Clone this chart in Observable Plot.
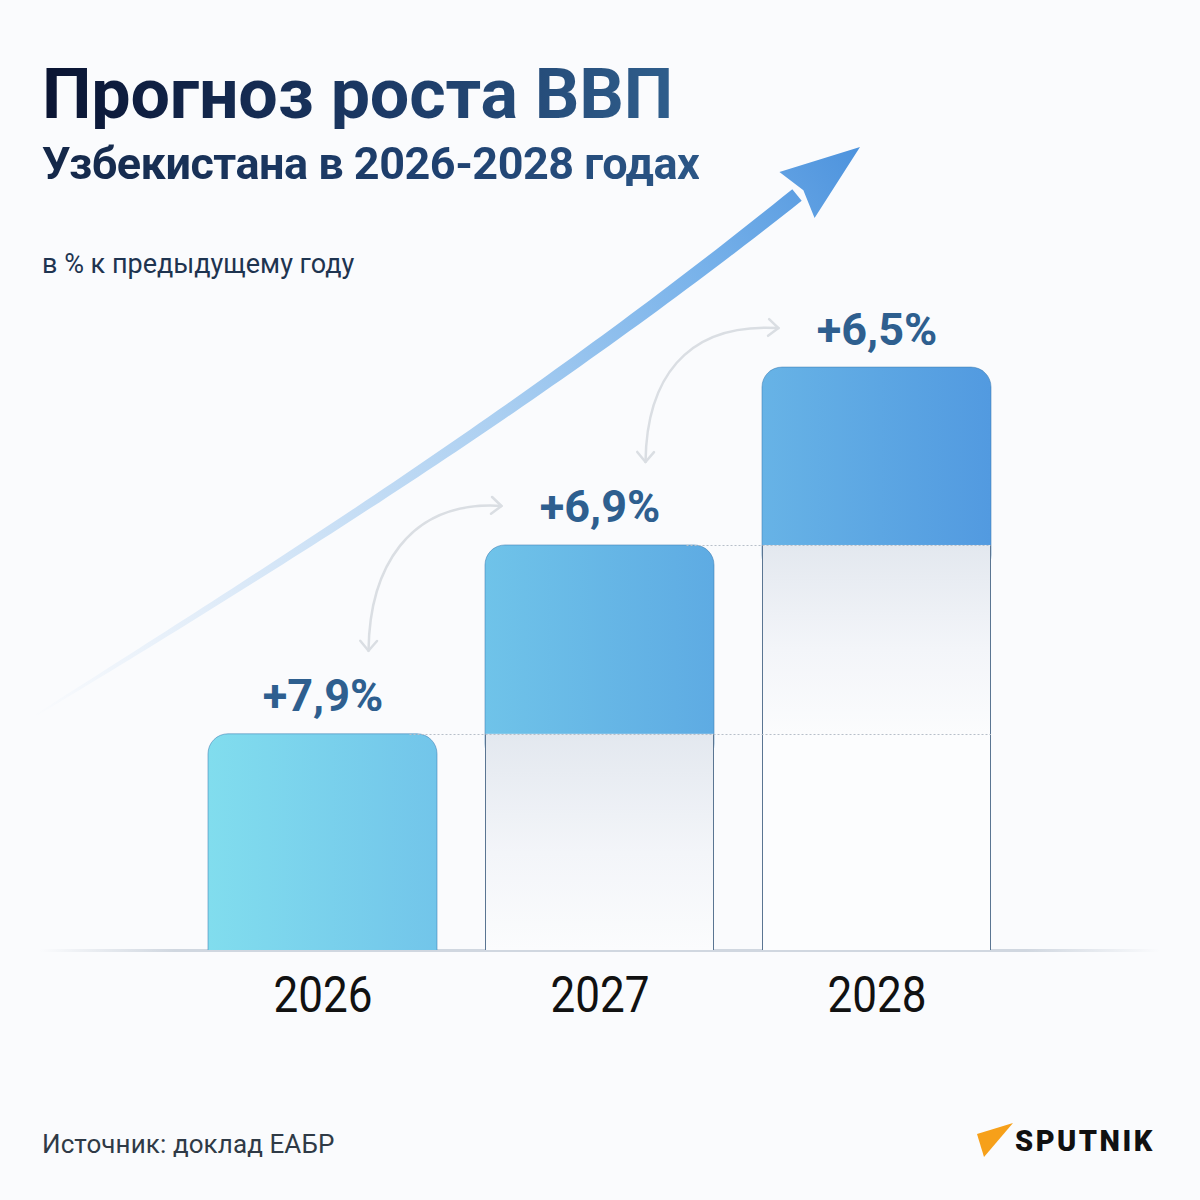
<!DOCTYPE html>
<html>
<head>
<meta charset="utf-8">
<script src="https://cdn.jsdelivr.net/npm/d3@7"></script>
<script src="https://cdn.jsdelivr.net/npm/@observablehq/plot@0.6"></script>
<style>
html, body { margin: 0; padding: 0; background: #fafbfd; }
#wrap { position: relative; width: 1200px; height: 1200px; background: #fafbfd; overflow: hidden; font-family: Roboto, "Noto Sans", sans-serif; }
#chart { position: absolute; left: 0; top: 0; }
.t { position: absolute; left: 42px; line-height: 1; white-space: nowrap; }
#title { top: 59px; font-size: 70px; font-weight: 700; letter-spacing: -0.2px;
  background: linear-gradient(90deg, #0a1432 0%, #1c3a66 55%, #2f5e8c 100%);
  -webkit-background-clip: text; background-clip: text; color: transparent; }
#subtitle { top: 141px; font-size: 45px; font-weight: 700; letter-spacing: -0.5px;
  background: linear-gradient(90deg, #142748 0%, #1f4170 60%, #2b5686 100%);
  -webkit-background-clip: text; background-clip: text; color: transparent; }
#unit { top: 251px; font-size: 27px; color: #1e3450; }
#source { top: 1131px; font-size: 26px; color: #2f3a46; letter-spacing: 0.1px; }
#logo { position: absolute; left: 970px; top: 1115px; }
#brand { position: absolute; left: 1015px; top: 1127px; font-size: 29px; font-weight: 900; letter-spacing: 2.5px; color: #111; line-height: 1; }
</style>
</head>
<body>
<div id="wrap">
  <div id="chart"></div>
  <div class="t" id="title">Прогноз роста ВВП</div>
  <div class="t" id="subtitle">Узбекистана в 2026-2028 годах</div>
  <div class="t" id="unit">в % к предыдущему году</div>
  <div class="t" id="source">Источник: доклад ЕАБР</div>
  <svg id="logo" width="50" height="50" viewBox="0 0 50 50"><polygon points="7,19 43,8 14,42" fill="#f6a01a"/></svg>
  <div id="brand">SPUTNIK</div>
</div>
<script>
// ---- data ----
const years = ["2026", "2027", "2028"];
const growth = [7.9, 6.9, 6.5];          // % к предыдущему году
const cumulative = Array.from(d3.cumsum(growth));
const fmt = v => "+" + v.toFixed(1).replace(".", ",") + "%";

// colours
const blueStops = {
  "2026": ["#81ddee", "#72c5ea"],
  "2027": ["#6fc3e9", "#5eabe3"],
  "2028": ["#67b3e6", "#529ae0"]
};

// segments: each year's bar is built from all previous years' increments
const segments = [];
years.forEach((year, j) => {
  for (let i = 0; i <= j; i++) {
    segments.push({
      year,
      lo: i ? cumulative[i - 1] : 0,
      hi: cumulative[i],
      kind: i === j ? "blue" : i === j - 1 ? "ghost" : "blank"
    });
  }
});

const bw = s => (typeof s.bandwidth === "function" ? s.bandwidth() : s.bandwidth);

// gradient definitions
function defsMark() {
  const defs = d3.create("svg:defs");
  for (const y of years) {
    const g = defs.append("linearGradient").attr("id", "blue-" + y).attr("x1", 0).attr("x2", 1).attr("y1", 0).attr("y2", 0);
    g.append("stop").attr("offset", 0).attr("stop-color", blueStops[y][0]);
    g.append("stop").attr("offset", 1).attr("stop-color", blueStops[y][1]);
  }
  const gh = defs.append("linearGradient").attr("id", "ghost").attr("x1", 0).attr("x2", 0).attr("y1", 0).attr("y2", 1);
  gh.append("stop").attr("offset", 0).attr("stop-color", "#e3e8ef");
  gh.append("stop").attr("offset", 0.55).attr("stop-color", "#f3f5f9");
  gh.append("stop").attr("offset", 1).attr("stop-color", "#fbfcfd");
  const bl = defs.append("linearGradient").attr("id", "baseline").attr("x1", 0).attr("x2", 1).attr("y1", 0).attr("y2", 0);
  bl.append("stop").attr("offset", 0).attr("stop-color", "#d0d7e0").attr("stop-opacity", 0);
  bl.append("stop").attr("offset", 0.12).attr("stop-color", "#d0d7e0");
  bl.append("stop").attr("offset", 0.88).attr("stop-color", "#d0d7e0");
  bl.append("stop").attr("offset", 1).attr("stop-color", "#d0d7e0").attr("stop-opacity", 0);
  const sw = defs.append("linearGradient").attr("id", "swoosh").attr("gradientUnits", "userSpaceOnUse")
    .attr("x1", 33).attr("y1", 717).attr("x2", 860).attr("y2", 147);
  [[0, "#fafbfd"], [0.2, "#e2edf9"], [0.55, "#abcff1"], [0.8, "#78b2ea"], [1, "#4d93dd"]]
    .forEach(([o, c]) => sw.append("stop").attr("offset", o).attr("stop-color", c));
  return defs.node();
}

// baseline across the whole width
function baselineMark(index, scales, values, dims) {
  const y0 = scales.y(0);
  return d3.create("svg:rect")
    .attr("x", 40).attr("width", dims.width - 80)
    .attr("y", y0 - 1).attr("height", 3)
    .attr("fill", "url(#baseline)").node();
}

// thin side edges of the lower (previous years) part of each bar
function sideEdges(index, scales) {
  const g = d3.create("svg:g").attr("stroke", "#5a7592").attr("stroke-width", 1);
  const w = bw(scales.x), y0 = scales.y(0);
  years.forEach((yr, j) => {
    if (j === 0) return;
    const top = scales.y(cumulative[j - 1]);
    for (const xx of [scales.x(yr) + 0.5, scales.x(yr) + w - 0.5]) {
      g.append("line").attr("x1", xx).attr("x2", xx).attr("y1", top).attr("y2", y0);
    }
  });
  return g.node();
}

// dotted level lines from each bar top to the last bar
function levelLines(index, scales) {
  const g = d3.create("svg:g").attr("stroke", "#b7bfc9").attr("stroke-width", 1).attr("stroke-dasharray", "2,2");
  const xEnd = scales.x(years[years.length - 1]) + bw(scales.x);
  cumulative.slice(0, -1).forEach((c, i) => {
    const yy = Math.round(scales.y(c)) + 0.5;
    g.append("line").attr("x1", scales.x(years[i]) + bw(scales.x) * 0.88).attr("x2", xEnd)
      .attr("y1", yy).attr("y2", yy);
  });
  return g.node();
}

// curved double arrows between consecutive labels
function linkArrows(index, scales) {
  const g = d3.create("svg:g").attr("fill", "none").attr("stroke", "#dadee3")
    .attr("stroke-width", 2.5).attr("stroke-linecap", "round").attr("stroke-linejoin", "round");
  const cx = yr => scales.x(yr) + bw(scales.x) / 2;
  const head = (px, py, dx, dy) => {
    const a = Math.atan2(dy, dx), L = 13, s = 0.7;
    return `M${px - L * Math.cos(a - s)},${py - L * Math.sin(a - s)}L${px},${py}L${px - L * Math.cos(a + s)},${py - L * Math.sin(a + s)}`;
  };
  for (let i = 0; i < years.length - 1; i++) {
    const bx = cx(years[i]) + 46, by = scales.y(cumulative[i]) - 83;
    const tx = cx(years[i + 1]) - 98, ty = scales.y(cumulative[i + 1]) - 39;
    const c1 = [bx + 1, by - 80], c2 = [bx + 38, ty - 6];
    g.append("path").attr("d", `M${bx},${by}C${c1[0]},${c1[1]} ${c2[0]},${c2[1]} ${tx},${ty}`);
    g.append("path").attr("d", head(bx, by, bx - c1[0], by - c1[1]));
    g.append("path").attr("d", head(tx, ty, tx - c2[0], ty - c2[1]));
  }
  return g.node();
}

// big rising arrow (decorative)
function swooshMark() {
  const P = [[33, 717], [288, 559], [542, 399], [797, 195]];
  const bez = t => {
    const u = 1 - t;
    return [0, 1].map(k => u * u * u * P[0][k] + 3 * u * u * t * P[1][k] + 3 * u * t * t * P[2][k] + t * t * t * P[3][k]);
  };
  const der = t => {
    const u = 1 - t;
    return [0, 1].map(k => 3 * u * u * (P[1][k] - P[0][k]) + 6 * u * t * (P[2][k] - P[1][k]) + 3 * t * t * (P[3][k] - P[2][k]));
  };
  const left = [], right = [];
  const N = 80;
  for (let i = 0; i <= N; i++) {
    const t = i / N;
    const [x, y] = bez(t), [dx, dy] = der(t);
    const len = Math.hypot(dx, dy), nx = -dy / len, ny = dx / len;
    const h = (1.5 + 13.5 * Math.pow(t, 0.75)) / 2;
    left.push([x + nx * h, y + ny * h]);
    right.push([x - nx * h, y - ny * h]);
  }
  const g = d3.create("svg:g").attr("fill", "url(#swoosh)");
  g.append("path").attr("d", "M" + left.concat(right.reverse()).map(p => p.join(",")).join("L") + "Z");
  const E = P[3], tip = [860, 147];
  const ux = tip[0] - E[0], uy = tip[1] - E[1], ul = Math.hypot(ux, uy);
  const nx = -uy / ul, ny = ux / ul, hw = 29;
  g.append("path").attr("d", `M${tip[0]},${tip[1]}L${E[0] + nx * hw},${E[1] + ny * hw}L${E[0] + ux / ul * 8},${E[1] + uy / ul * 8}L${E[0] - nx * hw},${E[1] - ny * hw}Z`);
  return g.node();
}

const chart = Plot.plot({
  width: 1200,
  height: 1200,
  marginTop: 129,
  marginBottom: 250,
  marginLeft: 160,
  marginRight: 161,
  x: {domain: years, padding: 0.173},
  y: {domain: [0, 30], axis: null},
  color: {type: "identity"},
  style: {background: "transparent", overflow: "visible"},
  marks: [
    defsMark,
    swooshMark,
    baselineMark,
    Plot.barY(segments.filter(d => d.kind === "blue"), {
      x: "year", y1: "lo", y2: "hi",
      fill: d => `url(#blue-${d.year})`,
      rx: 20, insetBottom: -30, clip: true,
      stroke: "#3e7db3", strokeOpacity: 0.55, strokeWidth: 1
    }),
    Plot.barY(segments.filter(d => d.kind !== "blue"), {
      x: "year", y1: "lo", y2: "hi",
      fill: d => (d.kind === "ghost" ? "url(#ghost)" : "#fcfdfe")
    }),
    sideEdges,
    levelLines,
    Plot.text(years, {
      x: d => d,
      y: (d, i) => cumulative[i],
      text: (d, i) => fmt(growth[i]),
      lineAnchor: "bottom", dy: -23,
      fontSize: 45, fontWeight: 700, fontFamily: "Roboto", fill: "#2e5f8f"
    }),
    linkArrows,
    Plot.axisX({
      tickSize: 0, tickPadding: 26, label: null,
      fontSize: 50, fontWeight: 400, fontFamily: "Roboto", fill: "#111"
    })
  ]
});
// condense the year labels like the original narrow typeface
d3.select(chart).selectAll("g[aria-label='x-axis tick label'] text")
  .attr("textLength", 99).attr("lengthAdjust", "spacingAndGlyphs");
document.getElementById("chart").appendChild(chart);
</script>
</body>
</html>
